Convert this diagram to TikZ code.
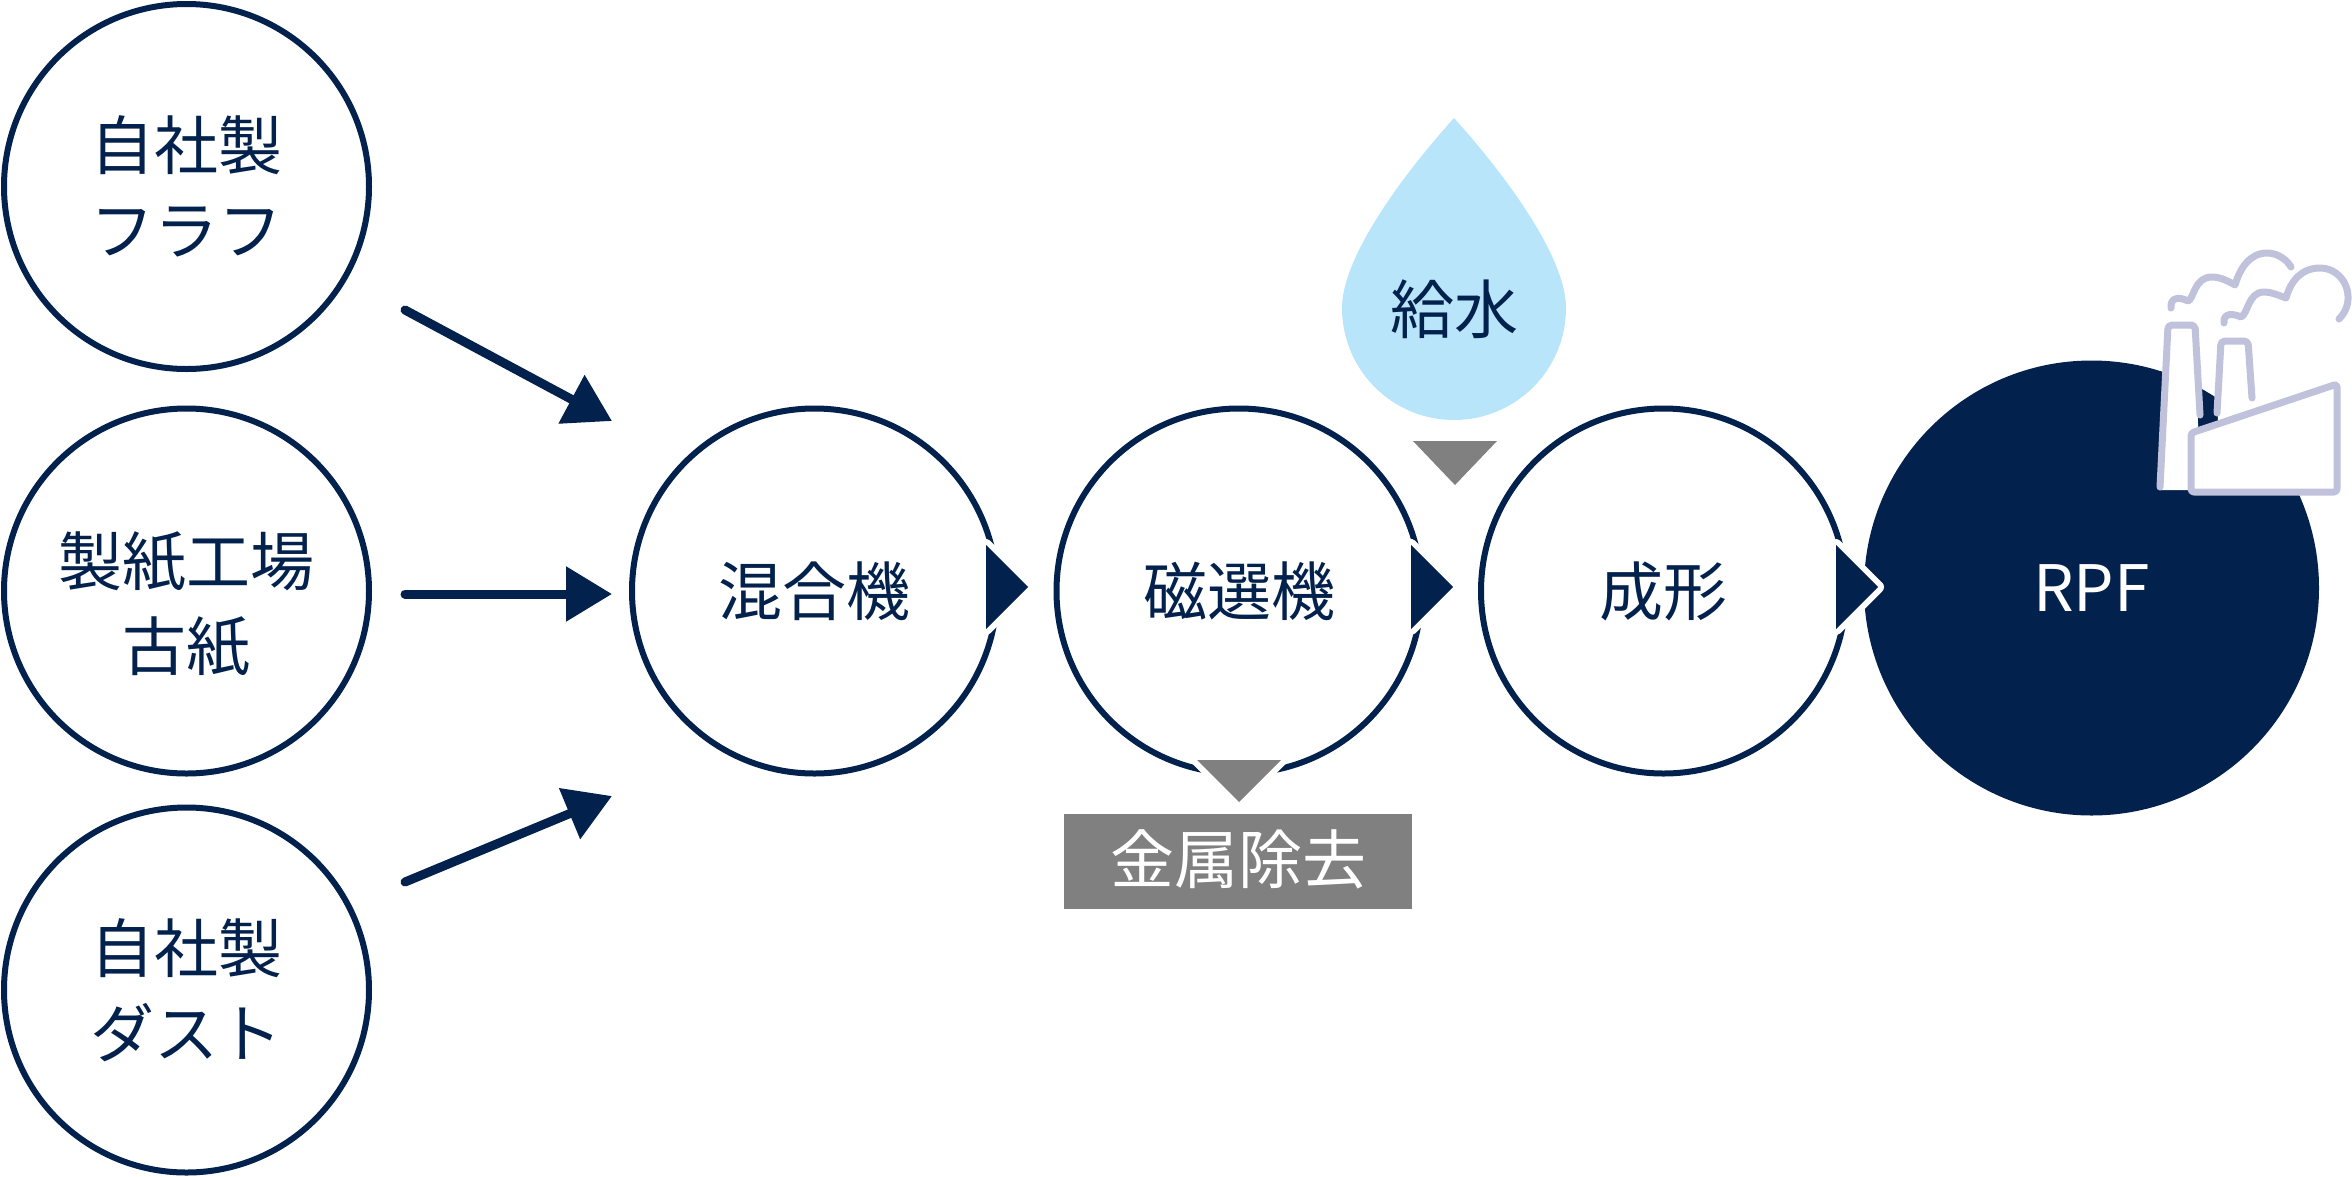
\documentclass[tikz,border=0pt]{standalone}
\usepackage{fontspec}
\usepackage{tikz}
\usetikzlibrary{arrows.meta}
\setmainfont{Noto Sans CJK JP}
\definecolor{navy}{HTML}{02214D}
\definecolor{drop}{HTML}{B8E5FA}
\definecolor{metal}{HTML}{808080}
\definecolor{plant}{HTML}{C0C2DC}

\begin{document}
\begin{tikzpicture}[x=1pt,y=-1pt,
	jptext/.style={font=\fontsize{64}{85}\selectfont,text=navy,align=center},
	proc/.style={circle,draw=navy,line width=6pt,fill=white,minimum size=365pt,inner sep=0pt,jptext},
	feed/.style={line width=9pt,draw=navy,line cap=round,-{Triangle[length=46pt,width=53pt]}},
	flow/.style={fill=navy,preaction={draw=white,line width=12pt,line join=round}},
	drain/.style={fill=metal,preaction={draw=white,line width=12pt,line join=round}},
	pipe/.style={draw=plant,line width=7pt,line join=round,line cap=round},
	smoke/.style={draw=plant,line width=7pt,line cap=round,line join=round}]
    \useasboundingbox (0,0) rectangle (2352,1176);

    \node[proc] (house1) at (186.5,186.5) {自社製\\フラフ};
    \node[proc] (paper) at (186.5,591) {};
    \node[jptext] (papertext) at (186.5,604) {製紙工場\\古紙};
    \node[proc] (house2) at (186.5,990) {自社製\\ダスト};

    \node[circle,fill=navy,minimum size=455pt,inner sep=0pt,text=white,font=\fontsize{64}{85}\selectfont] (rpf) at (2091.5,588) {RPF};
    \node[proc] (mixer) at (814.5,591) {混合機};
    \node[proc] (magnet) at (1239,591) {磁選機};
    \node[proc] (former) at (1663.5,591) {成形};

    \coordinate (a1) at (405,310);
    \coordinate (b1) at (612,421);
    \coordinate (a2) at (405,594);
    \coordinate (b2) at (612,594);
    \coordinate (a3) at (405,882);
    \coordinate (b3) at (612,796);
    \draw[feed] (a1) -- (b1);
    \draw[feed] (a2) -- (b2);
    \draw[feed] (a3) -- (b3);

    \path[flow] (986,545) -- (1028,587) -- (986,629) -- cycle;
    \path[flow] (1411,545) -- (1453,587) -- (1411,629) -- cycle;
    \path[flow] (1836,545) -- (1878,587) -- (1836,629) -- cycle;

    \fill[drop] (1454,118) .. controls (1400,178) and (1342,258) .. (1342,308)
	arc (180:0:112) .. controls (1566,258) and (1508,178) .. (1454,118) -- cycle;
    \node[jptext] (water) at (1454,309) {給水};
    \fill[metal] (1413,441) -- (1497,441) -- (1455,485) -- cycle;

    \path[drain] (1197,760) -- (1281,760) -- (1239,802) -- cycle;
    \node[fill=metal,minimum width=348pt,minimum height=95pt,inner sep=0pt] (removal) at (1238,861.5) {};
    \node[text=white,font=\fontsize{64}{85}\selectfont] (removaltext) at (1238,859) {金属除去};

    \fill[white] (2160,490) -- (2168,325) -- (2195,325) -- (2200,490) -- cycle;
    \draw[pipe,rounded corners=4pt] (2160,487) -- (2168,325) -- (2195,325) -- (2200,415);
    \fill[white] (2217,440) -- (2221,341) -- (2248,341) -- (2252,440) -- cycle;
    \draw[pipe,rounded corners=4pt] (2217,413) -- (2221,341) -- (2248,341) -- (2252,398);
    \draw[pipe,fill=white,rounded corners=3pt] (2191,492) -- (2191,433) -- (2337,384) -- (2337,492) -- cycle;
    \draw[smoke] (2171,308) .. controls (2170,298) and (2178,296) .. (2188,301)
	.. controls (2194,299) and (2194,277) .. (2212,277)
	.. controls (2220,277) and (2228,281) .. (2235,285)
	.. controls (2240,268) and (2250,253) .. (2267,253)
	.. controls (2278,253) and (2287,260) .. (2291,267);
    \draw[smoke] (2224,323) .. controls (2223,313) and (2232,313) .. (2241,317)
	.. controls (2248,314) and (2248,292) .. (2264,292)
	.. controls (2272,292) and (2280,296) .. (2286,298)
	.. controls (2291,280) and (2302,268) .. (2320,268)
	.. controls (2345,268) and (2358,300) .. (2339,319);
\end{tikzpicture}
\end{document}
